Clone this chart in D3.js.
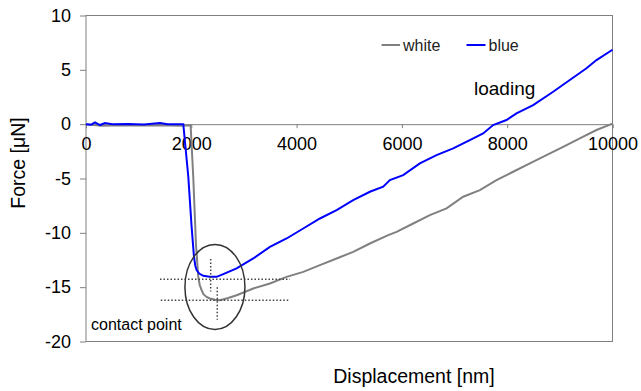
<!DOCTYPE html>
<html>
<head>
  <meta charset="UTF-8">
  <style>
    body { margin: 0; background: #fff; font-family: "Liberation Sans", Arial, sans-serif; }
    svg { display: block; }
  </style>
</head>
<body>
<svg></svg>
<script src="https://d3js.org/d3.v7.min.js"></script>
<script>
// displacement [nm] / force [uN]
let whiteX = [0, 300, 700, 1000, 1400, 1800, 1987, 2037, 2088, 2132, 2160, 2196, 2230, 2290, 2354, 2450, 2544, 2700, 2861, 3177, 3493, 3810, 4126, 4443, 4760, 5075, 5392, 5740, 5899, 6215, 6531, 6848, 7164, 7481, 7797, 8113, 8430, 8746, 9062, 9379, 9696, 10000];
let whiteF = [0, -0.15, -0.1, -0.12, -0.1, -0.15, -0.1, -4.84, -10.98, -14.05, -14.8, -15.28, -15.65, -15.9, -16.04, -16.15, -16.2, -16.0, -15.74, -15.12, -14.66, -14.05, -13.59, -12.97, -12.36, -11.75, -10.98, -10.21, -9.91, -9.14, -8.37, -7.75, -6.68, -6.07, -5.15, -4.38, -3.61, -2.85, -2.08, -1.31, -0.54, 0.05];

let blueX = [0, 100, 171, 266, 361, 500, 800, 1100, 1405, 1550, 1848, 1943, 2006, 2051, 2075, 2101, 2150, 2227, 2350, 2481, 2607, 2861, 3177, 3493, 3810, 4126, 4443, 4760, 5075, 5392, 5645, 5772, 6024, 6341, 6658, 6974, 7290, 7543, 7733, 7986, 8176, 8493, 8873, 9189, 9506, 9696, 10000];
let blueF = [0, -0.05, 0.17, -0.08, 0.1, 0, 0.02, -0.02, 0.1, 0, 0, -4.84, -9.45, -12.2, -13.0, -13.43, -13.75, -13.95, -14.05, -14.05, -13.8, -13.28, -12.36, -11.29, -10.52, -9.6, -8.68, -7.91, -6.99, -6.22, -5.76, -5.15, -4.69, -3.61, -2.85, -2.23, -1.46, -0.85, -0.08, 0.38, 0.99, 1.76, 2.98, 4.06, 5.14, 5.9, 6.85];

let xTicks = [0, 2000, 4000, 6000, 8000, 10000];
let yTicks = [10, 5, 0, -5, -10, -15, -20];

// contact point marks (data units)
let hLines = [[1405, 3873, -14.26], [1420, 3855, -16.2]];
let vLines = [[2368, -12.4, -15.4], [2493, -15.0, -18.0]];

let width = 641, height = 391;
let svg = d3.select("svg").attr("width", width).attr("height", height);

let x = d3.scaleLinear().domain([0, 10000]).range([86, 612.5]);
let y = d3.scaleLinear().domain([-20, 10]).range([341.5, 15.5]);

let frameColor = "#808080";
let fontFam = "'Liberation Sans', Arial, sans-serif";

// frame
svg.append("rect")
  .attr("x", x(0)).attr("y", y(10))
  .attr("width", x(10000) - x(0)).attr("height", y(-20) - y(10))
  .attr("fill", "none").attr("stroke", frameColor).attr("stroke-width", 1);

// y axis
let yAxis = svg.append("g")
  .attr("transform", "translate(" + x(0) + ",0)")
  .call(d3.axisLeft(y).tickValues(yTicks).tickFormat(d => String(d)).tickSize(6).tickPadding(9));
yAxis.select(".domain").remove();
yAxis.selectAll("line").attr("stroke", frameColor);
yAxis.selectAll("text").attr("font-size", 18).attr("fill", "#000").attr("font-family", fontFam);

// x axis on zero line
let xAxis = svg.append("g")
  .attr("transform", "translate(0," + y(0) + ")")
  .call(d3.axisBottom(x).tickValues(xTicks).tickFormat(d => String(d)).tickSize(4).tickPadding(9));
xAxis.select(".domain").attr("stroke", frameColor);
xAxis.selectAll("line").attr("stroke", frameColor);
xAxis.selectAll("text").attr("font-size", 18).attr("fill", "#000").attr("font-family", fontFam);

// curves
let line = d3.line().x(d => x(d[0])).y(d => y(d[1]));
svg.append("path")
  .datum(d3.zip(whiteX, whiteF))
  .attr("d", line)
  .attr("fill", "none").attr("stroke", "#808080").attr("stroke-width", 2);
svg.append("path")
  .datum(d3.zip(blueX, blueF))
  .attr("d", line)
  .attr("fill", "none").attr("stroke", "#0000ff").attr("stroke-width", 2);

// dotted guides
svg.selectAll(".hl").data(hLines).enter().append("line")
  .attr("x1", d => x(d[0])).attr("x2", d => x(d[1]))
  .attr("y1", d => y(d[2])).attr("y2", d => y(d[2]))
  .attr("stroke", "#444").attr("stroke-width", 1.5).attr("stroke-dasharray", "1.5,2");
svg.selectAll(".vl").data(vLines).enter().append("line")
  .attr("x1", d => x(d[0])).attr("x2", d => x(d[0]))
  .attr("y1", d => y(d[1])).attr("y2", d => y(d[2]))
  .attr("stroke", "#444").attr("stroke-width", 1.5).attr("stroke-dasharray", "1.5,2");

// ellipse around contact point
svg.append("ellipse")
  .attr("cx", x(2449)).attr("cy", y(-14.98))
  .attr("rx", x(570) - x(0)).attr("ry", y(-3.91) - y(0))
  .attr("fill", "none").attr("stroke", "#333").attr("stroke-width", 1.5);

// legend
let legend = [["white", "#808080", 381.5, 400], ["blue", "#0000ff", 466.5, 485.5]];
legend.forEach(l => {
  svg.append("line").attr("x1", l[2]).attr("x2", l[3]).attr("y1", 45).attr("y2", 45)
    .attr("stroke", l[1]).attr("stroke-width", 2);
  svg.append("text").attr("x", l[3] + 3).attr("y", 50.5)
    .attr("font-size", 16).attr("fill", "#222").text(l[0]);
});

// annotations
svg.append("text").attr("x", 474).attr("y", 95).attr("font-size", 19).attr("fill", "#000").text("loading");
svg.append("text").attr("x", 91).attr("y", 330).attr("font-size", 16).attr("fill", "#000").text("contact point");

// axis titles
svg.append("text").attr("x", 414).attr("y", 383).attr("text-anchor", "middle")
  .attr("font-size", 19.5).attr("fill", "#000").text("Displacement [nm]");
svg.append("text").attr("transform", "translate(25,163) rotate(-90)").attr("text-anchor", "middle")
  .attr("font-size", 19.5).attr("fill", "#000").text("Force [μN]");
</script>
</body>
</html>
